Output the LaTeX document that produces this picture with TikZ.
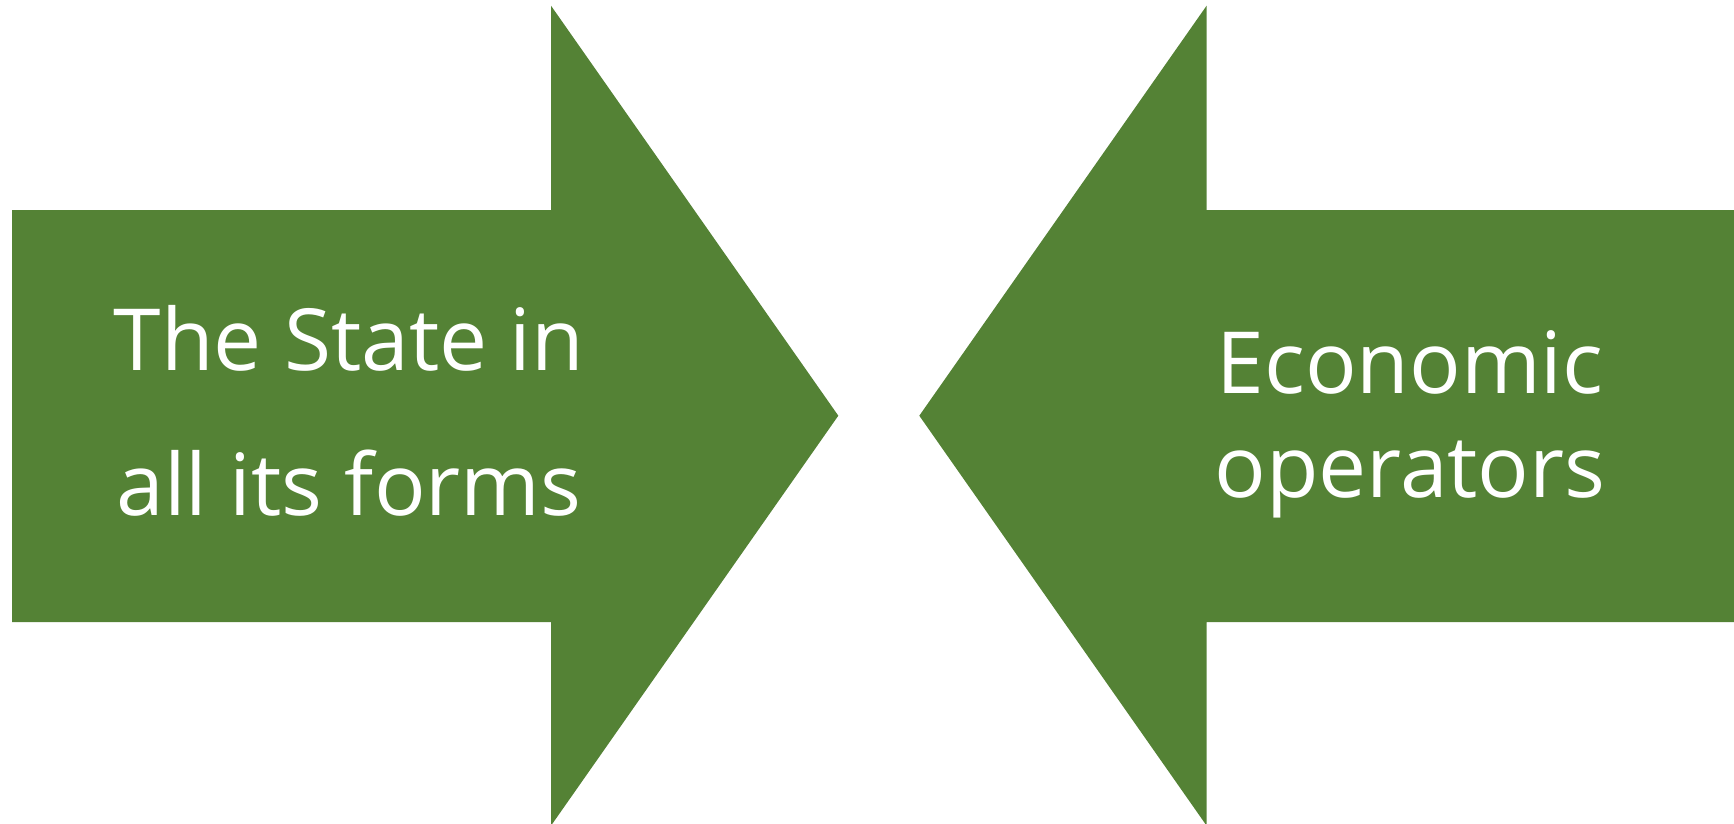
\documentclass[tikz,border=0pt]{standalone}
\usepackage{fontspec}
\setmainfont{Open Sans}
\usepackage{tikz}
\definecolor{Leaf}{HTML}{548235}

\begin{document}
\begin{tikzpicture}[x=.02cm,y=.02cm,
    arrowfill/.style={fill=Leaf},
    label/.style={text=white,align=center,inner sep=0pt}]
        \useasboundingbox (0,0) rectangle (1734,823);
        \clip (0,0) rectangle (1734,823);
        % two block arrows pointing at each other
        \fill[arrowfill] (12,613) -- (551,613) -- (551,817.3) -- (838.3,407.3)
          -- (551,-2.7) -- (551,201) -- (12,201) -- cycle;
        \fill[arrowfill] (1745.6,613) -- (1206.6,613) -- (1206.6,817.3) -- (919.3,407.3)
          -- (1206.6,-2.7) -- (1206.6,201) -- (1745.6,201) -- cycle;
        \node[label,font=\fontsize{48.8}{82.5}\selectfont] (state) at (349,412) {The State in\\all its forms};
        \node[label,font=\fontsize{48.8}{59.2}\selectfont] (operators) at (1410,399) {Economic\\operators};
      \end{tikzpicture}
\end{document}
